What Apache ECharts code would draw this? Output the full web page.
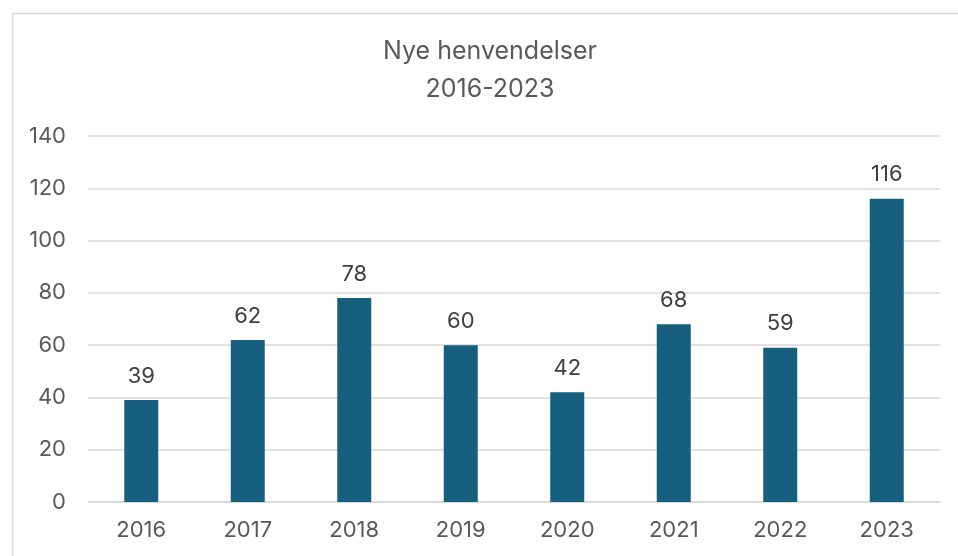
<!DOCTYPE html>
<html>
<head>
<meta charset="utf-8">
<script src="https://cdn.jsdelivr.net/npm/echarts@6/dist/echarts.min.js"></script>
<style>
  html, body { margin: 0; padding: 0; background: #fff; }
  #chart { width: 958px; height: 556px; }
</style>
</head>
<body>
<div id="chart"></div>
<script>
// Data
const years = ['2016', '2017', '2018', '2019', '2020', '2021', '2022', '2023'];
const henvendelser = [39, 62, 78, 60, 42, 68, 59, 116];

const textColor = '#595959';
const fontFamily = 'Inter, "Open Sans", sans-serif';

const chart = echarts.init(document.getElementById('chart'));

const option = {
    backgroundColor: '#fff',
    animation: false,
    graphic: [{
        type: 'rect',
        left: 10,
        top: 11,
        shape: { width: 970, height: 570 },
        style: { fill: 'none', stroke: '#d9d9d9', lineWidth: 1.5 },
        silent: true
    }],
    title: {
        text: 'Nye henvendelser\n2016-2023',
        left: 485,
        textAlign: 'center',
        top: 27,
        textStyle: {
            color: textColor,
            fontFamily: fontFamily,
            fontSize: 25,
            fontWeight: 'normal',
            lineHeight: 38
        }
    },
    grid: {
        left: 88,
        right: 18,
        top: 136,
        bottom: 54
    },
    xAxis: {
        type: 'category',
        data: years,
        axisLine: { lineStyle: { color: '#d9d9d9', width: 1.5 } },
        axisTick: { show: false },
        axisLabel: {
            color: textColor,
            fontFamily: fontFamily,
            fontSize: 22,
            margin: 17
        }
    },
    yAxis: {
        type: 'value',
        min: 0,
        max: 140,
        interval: 20,
        axisLine: { show: false },
        axisTick: { show: false },
        splitLine: { lineStyle: { color: '#d9d9d9', width: 1.5 } },
        axisLabel: {
            color: textColor,
            fontFamily: fontFamily,
            fontSize: 22,
            margin: 22
        }
    },
    series: [{
        type: 'bar',
        data: henvendelser,
        barWidth: 34,
        itemStyle: { color: '#175f7f' },
        label: {
            show: true,
            position: 'top',
            distance: 13,
            color: '#404040',
            fontFamily: fontFamily,
            fontSize: 22
        }
    }]
};

chart.setOption(option);
</script>
</body>
</html>
